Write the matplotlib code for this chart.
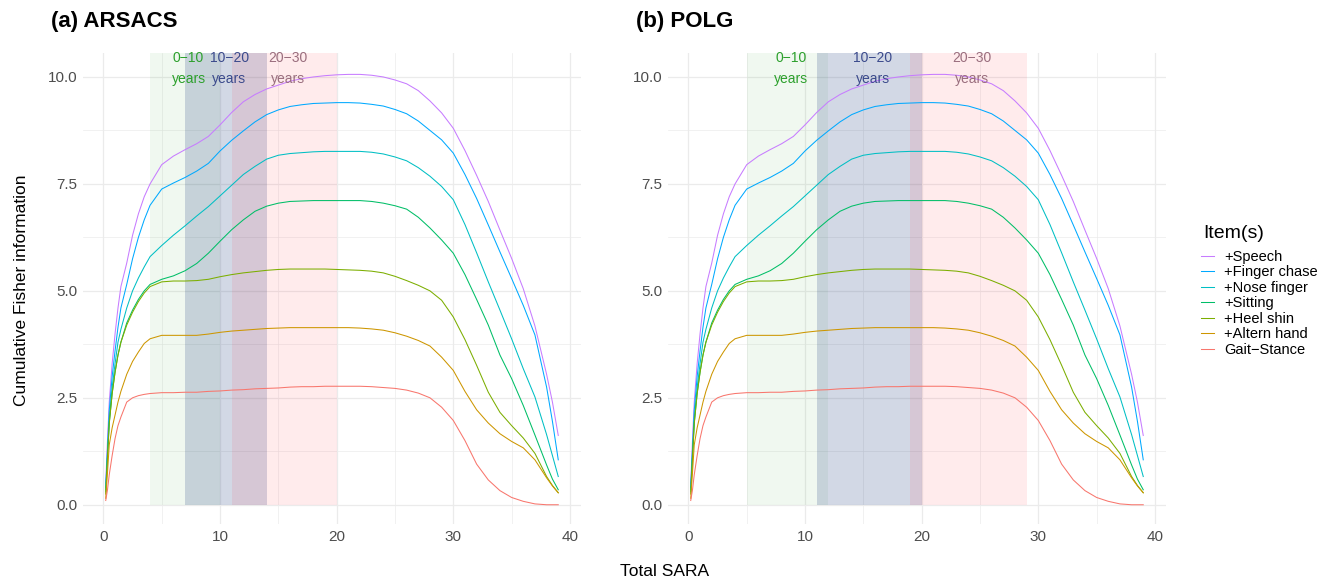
import matplotlib
matplotlib.use("Agg")
from matplotlib import pyplot as plt

plt.rcParams['font.family'] = ['Liberation Sans', 'DejaVu Sans']

# total SARA score (x) and cumulative Fisher information per item set
sara = [0.2, 0.35, 0.5, 0.75, 1, 1.25, 1.5, 2, 2.5, 3, 3.5, 4, 5, 6, 7, 8, 9,
        10, 11, 12, 13, 14, 15, 16, 17, 18, 19, 20, 21, 22, 23, 24, 25, 26, 27,
        28, 29, 30, 31, 32, 33, 34, 35, 36, 37, 38, 38.5, 39]

speech = [0.5, 1.5, 2.4, 3.3, 4.0, 4.6, 5.1, 5.65, 6.3, 6.8, 7.2, 7.5, 7.95,
          8.15, 8.3, 8.44, 8.61, 8.88, 9.17, 9.42, 9.59, 9.72, 9.81, 9.9, 9.96,
          10.0, 10.03, 10.05, 10.06, 10.06, 10.04, 10.0, 9.93, 9.84, 9.68,
          9.44, 9.16, 8.80, 8.28, 7.7, 7.09, 6.42, 5.76, 5.05, 4.18, 3.05, 2.4,
          1.62]
finger_chase = [0.4, 1.3, 2.2, 3.0, 3.6, 4.15, 4.6, 5.15, 5.75, 6.25, 6.66,
                7.0, 7.38, 7.52, 7.65, 7.8, 7.98, 8.27, 8.52, 8.74, 8.95, 9.12,
                9.23, 9.31, 9.35, 9.38, 9.39, 9.4, 9.4, 9.39, 9.36, 9.32, 9.24,
                9.14, 8.97, 8.75, 8.53, 8.22, 7.72, 7.16, 6.54, 5.91, 5.29, 4.66,
                3.97, 2.75, 1.95, 1.05]
nose_finger = [0.35, 1.2, 2.0, 2.75, 3.3, 3.8, 4.1, 4.6, 5.0, 5.3, 5.56, 5.8,
               6.06, 6.3, 6.52, 6.75, 6.97, 7.22, 7.47, 7.72, 7.91, 8.08, 8.17,
               8.21, 8.23, 8.25, 8.26, 8.26, 8.26, 8.26, 8.24, 8.2, 8.13, 8.04,
               7.88, 7.68, 7.44, 7.13, 6.55, 5.89, 5.21, 4.55, 3.88, 3.18, 2.52,
               1.64, 1.15, 0.66]
sitting = [0.3, 1.1, 1.9, 2.6, 3.1, 3.5, 3.8, 4.25, 4.55, 4.8, 5.0, 5.15, 5.27,
           5.35, 5.47, 5.64, 5.88, 6.16, 6.43, 6.66, 6.86, 6.98, 7.05, 7.09,
           7.1, 7.11, 7.11, 7.11, 7.11, 7.11, 7.09, 7.05, 6.99, 6.91, 6.72,
           6.47, 6.19, 5.88, 5.38, 4.8, 4.2, 3.5, 2.95, 2.32, 1.63, 0.93, 0.6,
           0.35]
heel_shin = [0.25, 1.1, 1.9, 2.6, 3.1, 3.5, 3.8, 4.2, 4.5, 4.75, 4.95, 5.1,
             5.21, 5.23, 5.23, 5.24, 5.27, 5.33, 5.38, 5.42, 5.45, 5.48, 5.5,
             5.51, 5.51, 5.51, 5.51, 5.5, 5.49, 5.48, 5.46, 5.42, 5.34, 5.24,
             5.13, 5.0, 4.78, 4.39, 3.86, 3.26, 2.63, 2.16, 1.85, 1.56, 1.2,
             0.66, 0.45, 0.28]
altern_hand = [0.15, 0.75, 1.4, 1.8, 2.1, 2.4, 2.65, 3.05, 3.35, 3.57, 3.77,
               3.88, 3.96, 3.96, 3.96, 3.96, 3.99, 4.03, 4.06, 4.08, 4.1, 4.12,
               4.13, 4.14, 4.14, 4.14, 4.14, 4.14, 4.14, 4.13, 4.11, 4.08, 4.02,
               3.94, 3.84, 3.71, 3.45, 3.14, 2.65, 2.22, 1.91, 1.66, 1.48, 1.33,
               1.05, 0.63, 0.44, 0.28]
gait_stance = [0.1, 0.35, 0.7, 1.15, 1.55, 1.85, 2.05, 2.4, 2.5, 2.55, 2.58,
               2.6, 2.62, 2.62, 2.63, 2.63, 2.65, 2.66, 2.68, 2.69, 2.71, 2.72,
               2.73, 2.75, 2.76, 2.76, 2.77, 2.77, 2.77, 2.77, 2.76, 2.74, 2.72,
               2.68, 2.61, 2.5, 2.28, 1.97, 1.5, 0.95, 0.58, 0.33, 0.17, 0.08,
               0.02, 0.0, 0.0, 0.0]

items = ['+Speech', '+Finger chase', '+Nose finger', '+Sitting', '+Heel shin',
         '+Altern hand', 'Gait\u2212Stance']
series = [speech, finger_chase, nose_finger, sitting, heel_shin, altern_hand,
          gait_stance]
colors = ['#C77CFF', '#00A9FF', '#00BFC4', '#00BE67', '#7CAE00', '#CD9600',
          '#F8766D']

# disease-duration windows (SARA range) per panel
band_labels = ['0\u221210\nyears', '10\u221220\nyears', '20\u221230\nyears']
arsacs_bands = [(4, 10), (7, 14), (11, 20)]
polg_bands = [(5, 12), (11, 20), (19, 29)]
band_fill = [('#2E9E2E', 0.07), ('#1E3C7D', 0.2), ('#FF2337', 0.09)]
band_text = ['#2CA02C', '#3B4A8C', '#9A6E7E']

panels = [('(a) ARSACS', arsacs_bands, 83), ('(b) POLG', polg_bands, 668)]

W, H = 1328, 579
fig = plt.figure(figsize=(W / 100, H / 100), dpi=100)

for title, bands, left_px in panels:
    ax = fig.add_axes([left_px / W, 55 / H, 498 / W, 471 / H])
    ax.set_xlim(-1.75, 40.95)
    ax.set_ylim(-0.45, 10.56)

    for (x0, x1), (fc, al), lab, tc in zip(bands, band_fill, band_labels,
                                           band_text):
        ax.fill_between([x0, x1], 0, 11, color=fc, alpha=al, lw=0, zorder=1)
        ax.text((x0 + x1) / 2 + 0.3, 10.19, lab, color=tc, fontsize=10,
                ha='center', va='center', linespacing=1.65, zorder=4)

    for name, vals, col in zip(items, series, colors):
        ax.plot(sara, vals, color=col, lw=0.75, label=name, zorder=3)

    ax.set_xticks([0, 10, 20, 30, 40])
    ax.set_xticks([5, 15, 25, 35], minor=True)
    ax.set_yticks([0, 2.5, 5.0, 7.5, 10.0])
    ax.set_yticklabels(['0.0', '2.5', '5.0', '7.5', '10.0'])
    ax.set_yticks([1.25, 3.75, 6.25, 8.75], minor=True)
    ax.grid(True, which='major', color='#EBEBEB', lw=0.9)
    ax.grid(True, which='minor', color='#EBEBEB', lw=0.5)
    ax.set_axisbelow(True)
    ax.tick_params(which='both', length=0, labelsize=11, labelcolor='#4D4D4D',
                   pad=4)
    for s in ax.spines.values():
        s.set_visible(False)

    fig.text((left_px - 32) / W, 1 - 22 / H, title, fontsize=16,
             fontweight='bold', va='center', ha='left')

fig.text(22 / W, 1 - 290 / H, 'Cumulative Fisher information', rotation=90,
         fontsize=12.5, va='center', ha='center')
fig.text(665 / W, 1 - 571 / H, 'Total SARA', fontsize=12.5, va='center',
         ha='center')

# legend, with its title set apart as in ggplot
fig.text(1203 / W, 1 - 233 / H, 'Item(s)', fontsize=14, va='center',
         ha='left')
handles, labels = ax.get_legend_handles_labels()
leg = fig.legend(handles, labels, loc='upper left',
                 bbox_to_anchor=(1201 / W, 1 - 250 / H), frameon=False,
                 fontsize=10.5, borderpad=0, borderaxespad=0,
                 handlelength=0.9, handletextpad=0.7, labelspacing=0.1)

fig.savefig('out.png', dpi=100)
